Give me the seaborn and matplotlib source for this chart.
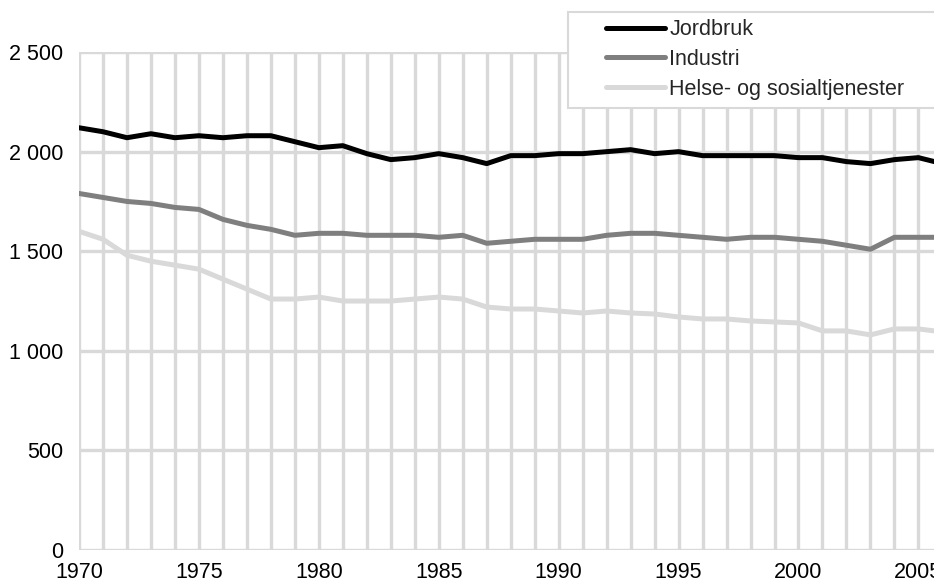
import pandas as pd
import numpy as np
import matplotlib
matplotlib.use('Agg')
import matplotlib.pyplot as plt
import matplotlib.ticker as mticker
from matplotlib.patches import Rectangle
import seaborn as sns

years = list(range(1970, 2007))

jordbruk = [2120, 2100, 2070, 2090, 2070, 2080, 2070, 2080, 2080, 2050,
            2020, 2030, 1990, 1960, 1970, 1990, 1970, 1940, 1980, 1980,
            1990, 1990, 2000, 2010, 1990, 2000, 1980, 1980, 1980, 1980,
            1970, 1970, 1950, 1940, 1960, 1970, 1940]
industri = [1790, 1770, 1750, 1740, 1720, 1710, 1660, 1630, 1610, 1580,
            1590, 1590, 1580, 1580, 1580, 1570, 1580, 1540, 1550, 1560,
            1560, 1560, 1580, 1590, 1590, 1580, 1570, 1560, 1570, 1570,
            1560, 1550, 1530, 1510, 1570, 1570, 1570]
helse = [1600, 1560, 1480, 1450, 1430, 1410, 1360, 1310, 1260, 1260,
         1270, 1250, 1250, 1250, 1260, 1270, 1260, 1220, 1210, 1210,
         1200, 1190, 1200, 1190, 1185, 1170, 1160, 1160, 1150, 1145,
         1140, 1100, 1100, 1080, 1110, 1110, 1095]

series_names = ['Jordbruk', 'Industri', 'Helse- og sosialtjenester']
colors = ['#000000', '#7f7f7f', '#d9d9d9']

df = pd.DataFrame({
    'year': years * 3,
    'value': jordbruk + industri + helse,
    'series': [series_names[0]] * len(years) + [series_names[1]] * len(years)
              + [series_names[2]] * len(years),
})

sns.set_style('white')
plt.rcParams['font.family'] = ['Liberation Sans', 'DejaVu Sans']

fig = plt.figure(figsize=(9.34, 5.85), dpi=100)
ax = fig.add_axes([0.0846, 0.0598, 1 - 0.0846, 0.911 - 0.0598])

sns.lineplot(data=df, x='year', y='value', hue='series',
             palette=dict(zip(series_names, colors)), linewidth=3.6,
             ax=ax, legend=False, zorder=3)

ax.set_xlim(1970, 2005.65)
ax.set_ylim(0, 2500)
ax.xaxis.set_major_locator(mticker.MultipleLocator(5))
ax.xaxis.set_minor_locator(mticker.MultipleLocator(1))
ax.yaxis.set_major_locator(mticker.MultipleLocator(500))
ax.yaxis.set_major_formatter(mticker.FuncFormatter(
    lambda v, p: f'{int(v):,}'.replace(',', ' ')))
ax.grid(True, which='both', axis='x', color='#d9d9d9', linewidth=2.4, zorder=0)
ax.grid(True, which='major', axis='y', color='#d9d9d9', linewidth=2.4, zorder=0)
ax.set_axisbelow(True)
for s in ax.spines.values():
    s.set_visible(False)
ax.tick_params(axis='both', which='both', length=0, labelsize=15.5, colors='black')
ax.tick_params(axis='x', pad=8.5)
ax.tick_params(axis='y', pad=11.5)
ax.set_xlabel('')
ax.set_ylabel('')

# legend box (white, covers the top of the grid)
box = Rectangle((0.608, 0.8154), 0.42, 0.164, transform=fig.transFigure,
                facecolor='white', edgecolor='#d9d9d9', linewidth=1.5,
                zorder=5)
fig.patches.append(box)

handles = [plt.Line2D([], [], color=c, linewidth=3.6, solid_capstyle='round')
           for c in colors]
leg = fig.legend(handles, series_names, loc='upper left',
                 bbox_to_anchor=(0.6488, 0.967),
                 fontsize=15.5, frameon=False,
                 handlelength=2.75, handletextpad=0.19,
                 labelspacing=0.40, borderpad=0, borderaxespad=0)
leg.set_zorder(6)

fig.savefig('out.png', dpi=100)
